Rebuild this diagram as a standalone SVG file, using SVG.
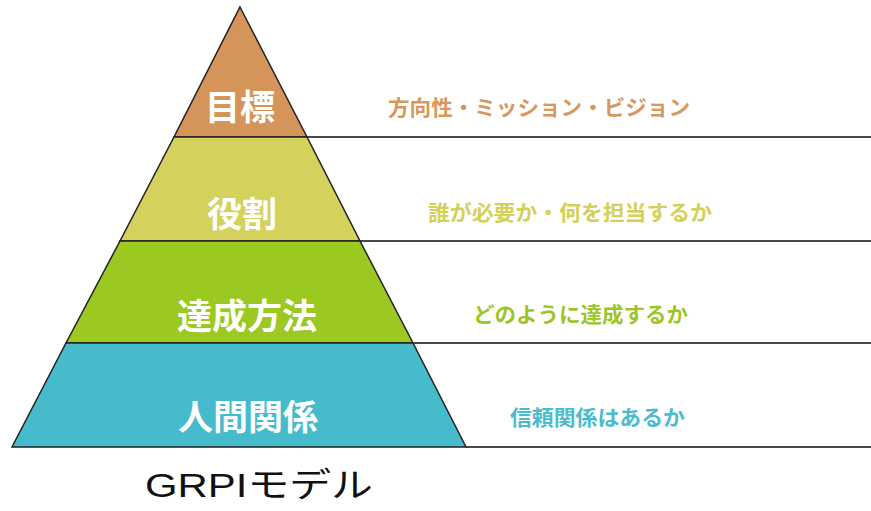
<svg xmlns="http://www.w3.org/2000/svg" width="871" height="511" viewBox="0 0 871 511">
  <style>
    .layer { stroke: #222; stroke-width: 1.5; stroke-linejoin: miter; }
    .lbl { font-family: "Noto Sans CJK JP", "Noto Sans", sans-serif; font-weight: bold; font-size: 35px; fill: #ffffff; text-anchor: middle; }
    .desc { font-family: "Noto Sans CJK JP", "Noto Sans", sans-serif; font-weight: bold; font-size: 21px; }
    .rule { stroke: #4a4a4a; stroke-width: 2; }
    .title { font-family: "Liberation Sans", "Noto Sans CJK JP", sans-serif; font-size: 34px; fill: #111; }
  </style>
  <rect width="871" height="511" fill="#ffffff"/>
  <g id="connectors">
    <line class="rule" x1="307" y1="137" x2="871" y2="137"/>
    <line class="rule" x1="360" y1="241" x2="871" y2="241"/>
    <line class="rule" x1="413" y1="343" x2="871" y2="343"/>
    <line class="rule" x1="466" y1="447" x2="871" y2="447"/>
  </g>
  <g id="goal">
    <polygon class="layer" points="240,7 307,137 174,137" fill="#d5955a"/>
    <text class="lbl" x="240" y="120">目標</text>
    <text class="desc" x="388" y="115" fill="#d9975c" textLength="302" lengthAdjust="spacingAndGlyphs">方向性・ミッション・ビジョン</text>
  </g>
  <g id="role">
    <polygon class="layer" points="174,137 307,137 360,241 120,241" fill="#d4d15c"/>
    <text class="lbl" x="242" y="227">役割</text>
    <text class="desc" x="428" y="220" fill="#d4d05a" textLength="284" lengthAdjust="spacingAndGlyphs">誰が必要か・何を担当するか</text>
  </g>
  <g id="process">
    <polygon class="layer" points="120,241 360,241 413,343 66,343" fill="#9cc822"/>
    <text class="lbl" x="247" y="329">達成方法</text>
    <text class="desc" x="473" y="322" fill="#9cc626" textLength="215" lengthAdjust="spacingAndGlyphs">どのように達成するか</text>
  </g>
  <g id="relations">
    <polygon class="layer" points="66,343 413,343 466,447 12,447" fill="#46bbcb"/>
    <text class="lbl" x="248" y="430">人間関係</text>
    <text class="desc" x="510" y="425" fill="#4bbccc" textLength="175" lengthAdjust="spacingAndGlyphs">信頼関係はあるか</text>
  </g>
  <g id="title">
    <text class="title" x="145" y="497" textLength="228" lengthAdjust="spacingAndGlyphs">GRPIモデル</text>
  </g>
</svg>
